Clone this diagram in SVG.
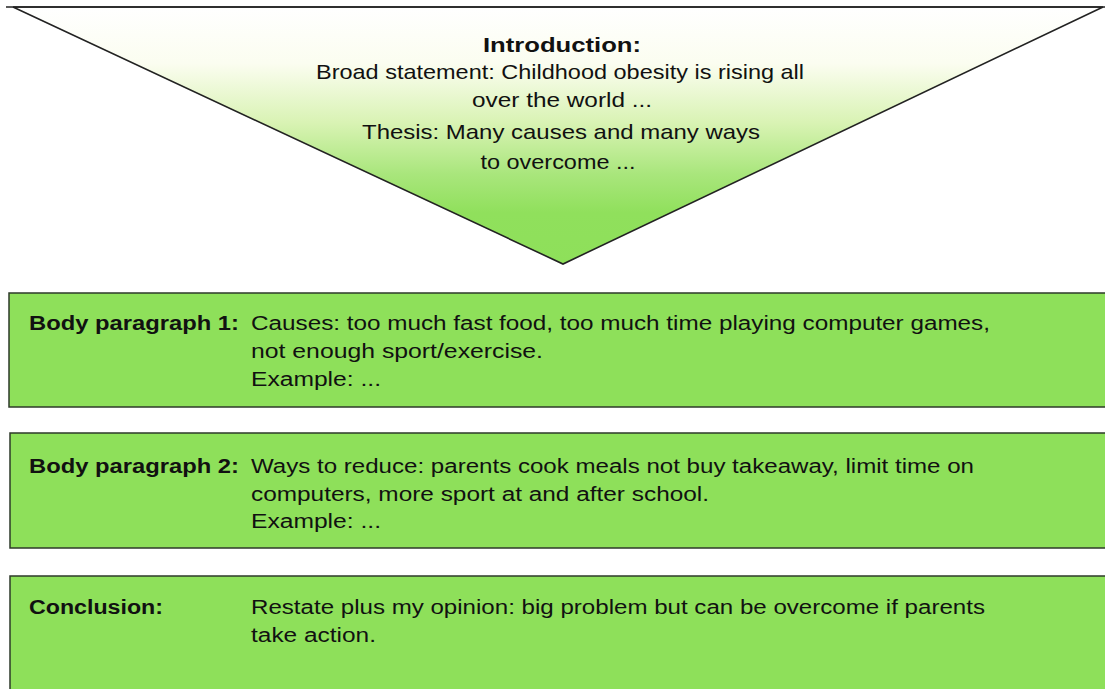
<svg xmlns="http://www.w3.org/2000/svg" width="1105" height="689" viewBox="0 0 1105 689">
<defs>
<linearGradient id="introGrad" x1="0" y1="7" x2="0" y2="264" gradientUnits="userSpaceOnUse">
<stop offset="0" stop-color="#ffffff"/>
<stop offset="0.22" stop-color="#fbfdf0"/>
<stop offset="0.45" stop-color="#d9f3b4"/>
<stop offset="0.65" stop-color="#a9e67c"/>
<stop offset="0.8" stop-color="#90e05c"/>
<stop offset="1" stop-color="#8ee05a"/>
</linearGradient>
</defs>
<style>
.box{fill:#8ee05a;stroke:#2e3a2a;stroke-width:1.5}
.tri{fill:url(#introGrad);stroke:#222;stroke-width:1.6;stroke-linejoin:miter}
.edge{stroke:#222;stroke-width:1.6;fill:none}
text{font-family:"Liberation Sans",Arial,Helvetica,sans-serif;fill:#111}
.it{font-size:21px}
.ib{font-size:21px;font-weight:bold}
.bt{font-size:19.5px}
.bb{font-size:19.5px;font-weight:bold}
</style>
<rect width="1105" height="689" fill="#ffffff"/>
<g id="introduction">
<polygon class="tri" points="13,7 1103,7 563,264"/>
<line class="edge" x1="6" y1="7" x2="1105" y2="7"/>
<text class="ib" x="562" y="52" text-anchor="middle" textLength="158" lengthAdjust="spacingAndGlyphs">Introduction:</text>
<text class="it" x="560" y="79" text-anchor="middle" textLength="488" lengthAdjust="spacingAndGlyphs">Broad statement: Childhood obesity is rising all</text>
<text class="it" x="562" y="107" text-anchor="middle" textLength="180" lengthAdjust="spacingAndGlyphs">over the world ...</text>
<text class="it" x="561" y="139" text-anchor="middle" textLength="398" lengthAdjust="spacingAndGlyphs">Thesis: Many causes and many ways</text>
<text class="it" x="558" y="169" text-anchor="middle" textLength="155" lengthAdjust="spacingAndGlyphs">to overcome ...</text>
</g>
<g id="body1">
<rect class="box" x="9" y="293" width="1110" height="114"/>
<text class="bb" x="29" y="330" textLength="210" lengthAdjust="spacingAndGlyphs">Body paragraph 1:</text>
<text class="bt" x="251" y="330" textLength="739" lengthAdjust="spacingAndGlyphs">Causes: too much fast food, too much time playing computer games,</text>
<text class="bt" x="251" y="358" textLength="292" lengthAdjust="spacingAndGlyphs">not enough sport/exercise.</text>
<text class="bt" x="251" y="386" textLength="130" lengthAdjust="spacingAndGlyphs">Example: ...</text>
</g>
<g id="body2">
<rect class="box" x="10" y="433" width="1110" height="115"/>
<text class="bb" x="29" y="473" textLength="210" lengthAdjust="spacingAndGlyphs">Body paragraph 2:</text>
<text class="bt" x="251" y="473" textLength="723" lengthAdjust="spacingAndGlyphs">Ways to reduce: parents cook meals not buy takeaway, limit time on</text>
<text class="bt" x="251" y="501" textLength="458" lengthAdjust="spacingAndGlyphs">computers, more sport at and after school.</text>
<text class="bt" x="251" y="528" textLength="130" lengthAdjust="spacingAndGlyphs">Example: ...</text>
</g>
<g id="conclusion">
<rect class="box" x="10" y="576" width="1110" height="130"/>
<text class="bb" x="29" y="614" textLength="134" lengthAdjust="spacingAndGlyphs">Conclusion:</text>
<text class="bt" x="251" y="614" textLength="734" lengthAdjust="spacingAndGlyphs">Restate plus my opinion: big problem but can be overcome if parents</text>
<text class="bt" x="251" y="642" textLength="125" lengthAdjust="spacingAndGlyphs">take action.</text>
</g>
</svg>
